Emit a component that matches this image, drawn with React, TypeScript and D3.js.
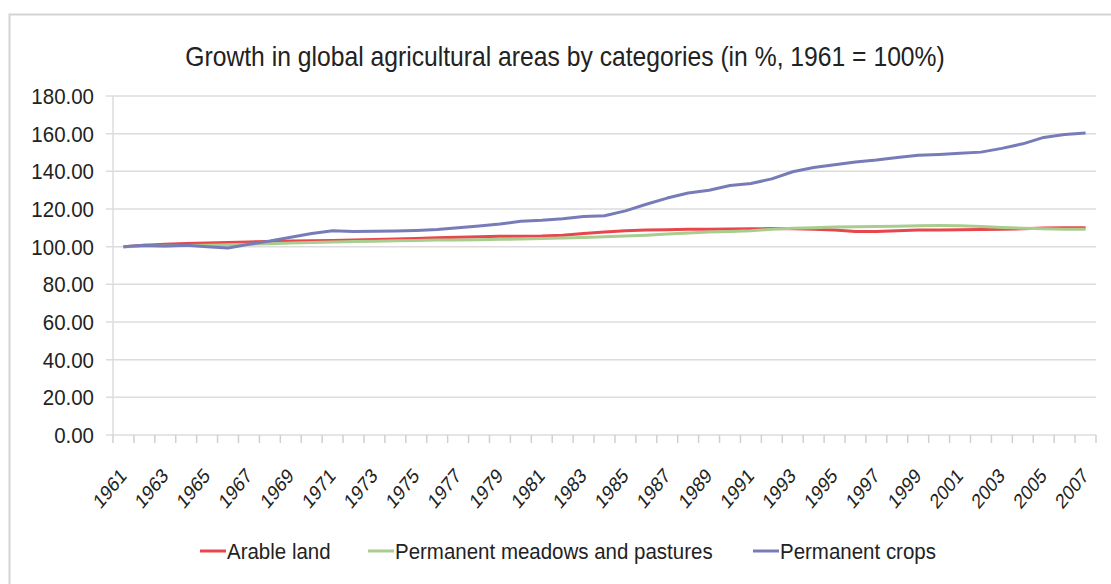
import * as d3 from "d3"
import { useEffect, useRef } from "react"

const years = d3.range(1961, 2008).map(String)

const arableLand = [
  100, 100.8, 101.3, 101.7, 102, 102.2, 102.5, 102.8, 103, 103.2,
  103.3, 103.5, 103.8, 104.1, 104.4, 104.7, 105, 105.3, 105.5, 105.5,
  105.6, 106, 107, 107.8, 108.5, 108.8, 109, 109.2, 109.3, 109.4,
  109.5, 109.6, 109.5, 109.2, 108.9, 108, 108, 108.4, 108.8, 108.9,
  109, 109.1, 109.2, 109.5, 109.9, 110, 110.1,
]

const meadowsPastures = [
  100, 100.2, 100.4, 100.6, 100.8, 101, 101.3, 101.6, 101.9, 102.2,
  102.5, 102.7, 102.9, 103.1, 103.3, 103.5, 103.6, 103.7, 103.9, 104.1,
  104.3, 104.6, 104.9, 105.2, 105.6, 106.1, 106.7, 107.3, 107.8, 108.1,
  108.5, 109.2, 109.8, 110.1, 110.4, 110.6, 110.7, 110.9, 111.1, 111.2,
  111.1, 110.7, 110.2, 109.8, 109.5, 109.3, 109.2,
]

const permanentCrops = [
  100, 100.8, 100.4, 100.8, 100, 99.3, 101.3, 103, 105, 107,
  108.5, 108, 108.2, 108.3, 108.6, 109.1, 110, 111, 112, 113.5,
  114, 114.8, 116, 116.4, 119, 122.5, 125.8, 128.5, 130, 132.5,
  133.5, 136, 139.8, 142, 143.5, 145, 146, 147.4, 148.6, 149,
  149.6, 150.2, 152.2, 154.6, 158, 159.6, 160.3,
]

const seriesNames = ["Arable land", "Permanent meadows and pastures", "Permanent crops"]
const seriesColors = ["#e8464b", "#a9cc8f", "#777cb8"]
const yTicks = [0, 20, 40, 60, 80, 100, 120, 140, 160, 180]
const title = "Growth in global agricultural areas by categories (in %, 1961 = 100%)"

export default function App() {
  const ref = useRef<SVGSVGElement>(null)

  useEffect(() => {
    const svg = d3.select(ref.current)
    svg.selectAll("*").remove()

    const W = 1111, H = 584
    const left = 113, right = 1096, top = 96, bottom = 435
    const font = "'Liberation Sans', Arial, sans-serif"
    const squeeze = 0.92 // the original text is a bit narrow

    // outer frame
    svg.append("rect")
      .attr("x", 9.5).attr("y", 14.5)
      .attr("width", W + 20).attr("height", H + 20)
      .attr("fill", "#fff")
      .attr("stroke", "#d4d4d4").attr("stroke-width", 2)

    const x = d3.scaleBand().domain(years).range([left, right])
    const y = d3.scaleLinear().domain([0, 180]).range([bottom, top])
    const cx = (yr: string) => (x(yr) as number) + x.bandwidth() / 2

    // gridlines
    svg.append("g").selectAll("line").data(yTicks).enter().append("line")
      .attr("x1", left - 7).attr("x2", right)
      .attr("y1", d => y(d)).attr("y2", d => y(d))
      .attr("stroke", "#dcdcdc").attr("stroke-width", 1.5)

    // y axis line
    svg.append("line")
      .attr("x1", left).attr("x2", left).attr("y1", top).attr("y2", bottom + 1)
      .attr("stroke", "#dcdcdc").attr("stroke-width", 1.5)

    // x axis ticks between categories
    const tickPos = years.map(d => x(d) as number).concat([right])
    svg.append("g").selectAll("line").data(tickPos).enter().append("line")
      .attr("x1", d => d).attr("x2", d => d)
      .attr("y1", bottom).attr("y2", bottom + 8)
      .attr("stroke", "#d0d0d0").attr("stroke-width", 1.5)

    // y labels
    svg.append("g").selectAll("text").data(yTicks).enter().append("text")
      .attr("transform", d => `translate(94,${y(d)}) scale(${squeeze},1)`)
      .attr("dy", "0.36em")
      .attr("text-anchor", "end")
      .attr("font-family", font).attr("font-size", 20.5 / squeeze)
      .attr("fill", "#222")
      .text(d => d3.format(".2f")(d))

    // x labels (every second year)
    svg.append("g").selectAll("text").data(years.filter((d, i) => i % 2 === 0)).enter().append("text")
      .attr("transform", d => `translate(${cx(d) + 4},${bottom + 42}) scale(0.82,1) rotate(-45)`)
      .attr("text-anchor", "end")
      .attr("font-family", font).attr("font-size", 21)
      .attr("fill", "#222")
      .text(d => d)

    // lines
    const allSeries = [arableLand, meadowsPastures, permanentCrops]
    const line = d3.line<number>()
      .x((d, i) => cx(years[i]))
      .y(d => y(d))

    allSeries.forEach((s, i) => {
      svg.append("path")
        .datum(s)
        .attr("d", line)
        .attr("fill", "none")
        .attr("stroke", seriesColors[i])
        .attr("stroke-width", 3)
        .attr("stroke-linejoin", "round")
    })

    // title
    svg.append("text")
      .attr("transform", `translate(565,66) scale(${squeeze},1)`)
      .attr("text-anchor", "middle")
      .attr("font-family", font).attr("font-size", 24.7 / squeeze)
      .attr("fill", "#222")
      .text(title)

    // legend
    const legendX = [200, 368, 753]
    seriesNames.forEach((name, i) => {
      const g = svg.append("g").attr("transform", `translate(${legendX[i]},551)`)
      g.append("line")
        .attr("x1", 0).attr("x2", 26).attr("y1", 0).attr("y2", 0)
        .attr("stroke", seriesColors[i]).attr("stroke-width", 3)
      g.append("text")
        .attr("transform", `translate(27,0) scale(${squeeze},1)`)
        .attr("dy", "0.36em")
        .attr("font-family", font).attr("font-size", 20.5 / squeeze)
        .attr("fill", "#222")
        .text(name)
    })
  }, [])

  return (
    <svg ref={ref} width={1111} height={584}
      style={{ position: "absolute", left: 0, top: 0, background: "#fff" }} />
  )
}
